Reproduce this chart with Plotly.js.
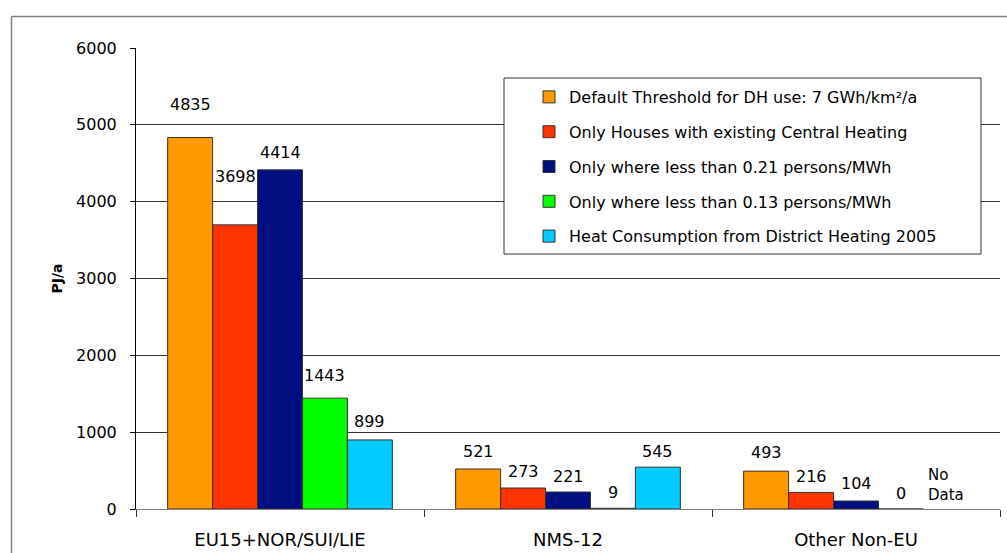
<!DOCTYPE html>
<html>
<head>
<meta charset="utf-8">
<script src="https://cdn.plot.ly/plotly-3.0.1.min.js"></script>
<style>
  html, body { margin: 0; padding: 0; background: #fff; }
  #chart { width: 1007px; height: 553px; }
</style>
</head>
<body>
<div id="chart"></div>
<script>
// ---- data ----
const categories = ["EU15+NOR/SUI/LIE", "NMS-12", "Other Non-EU"];
const seriesNames = [
  "Default Threshold for DH use: 7 GWh/km²/a",
  "Only Houses with existing Central Heating",
  "Only where less than 0.21 persons/MWh",
  "Only where less than 0.13 persons/MWh",
  "Heat Consumption from District Heating 2005"
];
const defaultThreshold = [4835, 521, 493];
const centralHeating   = [3698, 273, 216];
const persons021       = [4414, 221, 104];
const persons013       = [1443, 9, 0];
const districtHeating  = [899, 545, null];
const noDataLabel = "No<br>Data";
const yTicks = [0, 1000, 2000, 3000, 4000, 5000, 6000];

// ---- styles ----
const colors = ["#FF9900", "#FF3300", "#000E80", "#00FF00", "#00CCFF"];
const allSeries = [defaultThreshold, centralHeating, persons021, persons013, districtHeating];
const FONT = "DejaVu Sans, Arial, sans-serif";

// label vertical nudges (px above bar top), per series / category
const labelLift = [
  [33, 17, 19],
  [48, 17, 16],
  [17, 16, 18],
  [23, 16, 16],
  [18, 16, 24]
];

const margin = {l: 136, r: 7, t: 48, b: 44};
const plotW = 1007 - margin.l - margin.r;
const plotH = 553 - margin.t - margin.b;
const bargap = 0.22;
const catW = plotW / categories.length;
const barW = catW * (1 - bargap) / allSeries.length;

const traces = allSeries.map((vals, i) => ({
  type: "bar",
  name: seriesNames[i],
  x: categories,
  y: vals,
  legendgroup: "g" + i,
  marker: {color: colors[i], line: {color: "#333333", width: 1}},
  hoverinfo: "x+y+name"
}));

const annotations = [];
allSeries.forEach((vals, i) => {
  vals.forEach((v, j) => {
    const isNull = (v === null);
    annotations.push({
      x: categories[j], y: isNull ? 0 : v,
      xref: "x", yref: "y",
      xshift: (i - (allSeries.length - 1) / 2) * barW,
      yshift: labelLift[i][j],
      text: isNull ? noDataLabel : String(v),
      showarrow: false,
      align: "left",
      xanchor: "center", yanchor: "middle",
      font: {family: FONT, size: isNull ? 15 : 16, color: "#000"}
    });
  });
});

// paper-coordinate helpers for frame & legend box
const px2x = p => (p - margin.l) / plotW;
const py2y = p => (margin.t + plotH - p) / plotH;

const shapes = [
  {type: "line", xref: "paper", yref: "paper", x0: px2x(11.5), x1: px2x(11.5), y0: py2y(16.5), y1: py2y(560),
   line: {color: "#808080", width: 1.5}},
  {type: "line", xref: "paper", yref: "paper", x0: px2x(11.5), x1: px2x(1010), y0: py2y(16.5), y1: py2y(16.5),
   line: {color: "#808080", width: 1.5}},
  {type: "rect", xref: "paper", yref: "paper", layer: "above",
   x0: px2x(504), x1: px2x(981), y0: py2y(254), y1: py2y(78),
   fillcolor: "#ffffff", line: {color: "#333333", width: 1}}
];

const layout = {
  width: 1007, height: 553,
  margin: margin,
  paper_bgcolor: "#ffffff",
  plot_bgcolor: "#ffffff",
  barmode: "group",
  bargap: bargap,
  bargroupgap: 0,
  showlegend: true,
  legend: {
    x: px2x(529), y: py2y(80), xanchor: "left", yanchor: "top",
    bgcolor: "rgba(0,0,0,0)", borderwidth: 0,
    traceorder: "grouped", tracegroupgap: 11,
    font: {family: FONT, size: 16, color: "#000"}
  },
  xaxis: {
    type: "category",
    showline: true, linecolor: "#808080", linewidth: 1,
    ticks: "outside", tickson: "boundaries", ticklen: 7, tickcolor: "#333",
    ticklabelstandoff: 14,
    tickfont: {family: FONT, size: 18, color: "#000"},
    showgrid: false, zeroline: false, fixedrange: true
  },
  yaxis: {
    range: [0, 6000],
    tickvals: yTicks,
    ticktext: yTicks.map(String),
    showline: true, linecolor: "#000", linewidth: 1,
    ticks: "outside", ticklen: 5, tickcolor: "#000",
    ticklabelstandoff: 10,
    tickfont: {family: FONT, size: 16, color: "#000"},
    showgrid: true, gridcolor: "#333333", gridwidth: 1,
    zeroline: false,
    title: {text: "<b>PJ/a</b>", font: {family: FONT, size: 14, color: "#000"}, standoff: 10},
    automargin: false, fixedrange: true
  },
  shapes: shapes,
  annotations: annotations
};

Plotly.newPlot("chart", traces, layout, {displayModeBar: false, staticPlot: true});
</script>
</body>
</html>
